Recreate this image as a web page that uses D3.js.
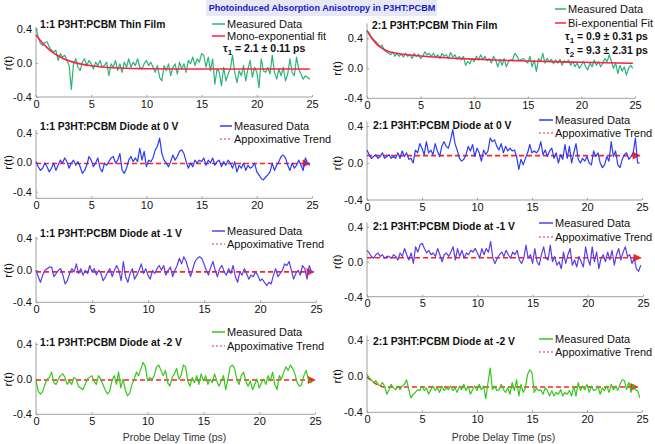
<!DOCTYPE html>
<html><head><meta charset="utf-8">
<script src="https://cdn.jsdelivr.net/npm/d3@7"></script>
<style>
body{margin:0;background:#fff}
svg{display:block;font-family:"Liberation Sans",Arial,sans-serif}
</style>
</head><body>
<svg id="c" width="655" height="444"></svg>
<script>
// ---------------- DATA ----------------
const chartTitle = "Photoinduced Absorption Anisotropy in P3HT:PCBM";
const xLabel = "Probe Delay Time (ps)";
const yLabel = "r(t)";
const xTicks = [0, 5, 10, 15, 20, 25];
const yTicks = [-0.4, 0.0, 0.4];
const timeStep = 0.2; // ps between samples

const panelTitles = [
  "1:1 P3HT:PCBM Thin Film", "2:1 P3HT:PCBM Thin Film",
  "1:1 P3HT:PCBM Diode at 0 V", "2:1 P3HT:PCBM Diode at 0 V",
  "1:1 P3HT:PCBM Diode at -1 V", "2:1 P3HT:PCBM Diode at -1 V",
  "1:1 P3HT:PCBM Diode at -2 V", "2:1 P3HT:PCBM Diode at -2 V"
];
const dataLegend = "Measured Data";
const fitLegends = ["Mono-exponential fit", "Bi-exponential Fit"];
const trendLegend = "Appoximative Trend";

const film11 = [0.41,0.31,0.23,0.21,0.24,0.25,0.19,0.15,0.13,0.15,0.03,0.11,0.07,0.09,0.03,-0.03,-0.31,-0.01,0.05,-0.05,
-0.09,0.01,0.05,-0.03,0.03,-0.01,-0.07,0.01,-0.03,0.03,-0.05,-0.03,0.01,-0.15,-0.01,-0.05,0.03,-0.09,-0.01,-0.11,
0.01,-0.05,0.05,-0.05,0.01,-0.03,0.05,-0.05,-0.07,-0.01,0.03,-0.03,0.01,-0.05,-0.11,-0.03,-0.17,-0.21,-0.03,-0.09,
-0.01,-0.15,-0.05,-0.01,-0.13,0.01,-0.07,-0.01,-0.11,0.03,-0.01,0.07,-0.03,0.05,0.01,0.11,0.09,-0.05,0.07,-0.09,
0.05,-0.25,-0.07,-0.11,-0.27,-0.05,-0.21,-0.13,-0.07,0.09,-0.11,-0.23,-0.09,-0.15,-0.03,-0.21,-0.07,0.03,-0.17,-0.05,
-0.11,-0.29,0.05,-0.09,-0.11,-0.05,-0.13,0.09,-0.11,-0.19,-0.07,-0.15,-0.05,-0.21,-0.13,0.05,-0.11,-0.15,0.07,-0.07,
-0.13,-0.19,-0.15,-0.17,-0.19];
const film21 = [0.51,0.47,0.42,0.39,0.36,0.33,0.29,0.31,0.24,0.22,0.20,0.18,0.22,0.16,0.20,0.16,0.19,0.15,0.20,0.16,
0.18,0.13,0.20,0.16,0.19,0.13,0.16,0.22,0.18,0.20,0.16,0.20,0.15,0.18,0.13,0.20,0.16,0.18,0.13,0.21,
0.15,0.18,0.12,0.16,0.11,0.16,0.04,0.09,0.06,0.13,0.09,0.16,0.11,0.18,0.12,0.16,0.10,0.13,0.07,0.16,
0.11,0.02,0.12,0.04,0.13,0.02,0.09,0.11,0.12,0.20,0.16,0.10,0.12,0.13,0.09,0.07,0.16,0.02,0.11,-0.04,
0.13,0.09,0.20,0.07,0.13,0.09,0.12,0.06,0.11,0.07,0.12,0.04,0.10,0.08,0.11,0.04,0.09,0.02,0.07,0.00,
0.04,0.09,0.02,-0.02,0.07,0.02,0.11,0.04,0.09,0.02,0.07,0.13,0.09,0.18,0.09,0.00,0.07,-0.07,0.04,-0.04,
0.02,-0.09,0.00,0.04,0.00];
const diode11_0V = [0.01,-0.06,-0.11,-0.08,-0.01,-0.06,-0.13,-0.08,-0.01,-0.11,-0.04,0.03,-0.01,0.06,0.01,-0.08,-0.01,0.03,-0.04,0.01,
-0.06,-0.15,-0.11,-0.04,0.08,0.03,-0.06,-0.01,0.06,-0.08,-0.13,-0.01,-0.04,0.01,0.06,0.08,-0.01,0.03,0.12,-0.11,
-0.15,-0.08,0.03,0.08,0.01,0.06,0.01,0.19,0.03,0.15,-0.06,0.03,0.01,0.06,0.17,0.22,0.33,0.12,0.03,-0.01,
-0.06,0.01,0.10,0.03,0.08,0.15,0.17,0.12,0.01,-0.08,-0.01,-0.06,0.03,-0.01,0.03,0.01,0.06,-0.04,0.03,-0.01,
0.06,-0.04,0.01,0.03,-0.06,0.01,-0.04,0.03,-0.01,-0.08,0.01,-0.13,-0.04,-0.08,-0.01,-0.11,-0.04,-0.08,-0.06,-0.01,
-0.13,-0.17,-0.22,-0.24,-0.20,-0.17,-0.13,-0.01,-0.11,-0.04,0.01,0.08,0.10,0.06,-0.04,-0.11,-0.01,-0.08,-0.04,0.03,
-0.04,-0.11,0.06,-0.01,-0.04];
const diode21_0V = [0.14,0.09,0.05,0.07,0.09,0.05,0.07,0.11,0.05,0.07,0.09,0.05,0.07,0.05,0.11,0.05,0.13,0.07,0.11,0.04,
0.05,0.00,0.14,0.11,0.21,0.16,0.09,0.23,0.11,0.14,0.09,0.21,0.13,0.07,0.18,0.23,0.18,0.16,0.25,0.36,
0.21,0.14,0.05,0.02,0.04,0.09,0.18,0.13,0.20,0.07,0.16,0.11,0.02,0.14,0.09,0.13,0.27,0.23,0.25,0.18,
0.14,0.21,0.11,0.18,0.13,0.16,0.13,0.14,0.07,-0.07,0.04,-0.02,0.05,0.11,0.20,0.11,0.13,0.11,0.14,0.23,
0.09,0.14,0.07,0.13,0.16,0.05,0.11,0.00,0.09,0.04,0.20,0.05,0.18,0.00,0.11,0.21,0.04,0.00,0.05,0.02,
0.07,0.00,-0.02,0.13,0.07,0.11,0.00,-0.05,-0.02,0.07,0.02,0.23,0.07,0.13,-0.02,-0.05,0.04,0.09,0.11,0.04,
0.07,0.11,0.27,0.00,0.00];
const diode11_1V = [0.00,-0.08,-0.15,-0.06,0.00,0.02,0.04,0.04,-0.08,-0.04,0.00,0.02,-0.06,-0.17,-0.13,-0.04,0.02,-0.02,0.08,-0.04,
0.02,-0.06,0.00,-0.04,0.06,-0.02,0.02,-0.06,0.00,-0.04,-0.13,-0.08,-0.02,0.02,-0.08,0.00,0.06,0.00,-0.13,0.11,
-0.08,-0.15,-0.04,0.02,-0.11,-0.06,0.00,0.08,-0.04,0.02,-0.06,-0.11,0.00,-0.04,0.02,0.06,0.00,0.06,-0.06,0.00,
0.04,-0.08,0.00,0.06,0.15,0.08,0.17,0.11,0.02,-0.08,0.02,0.11,0.15,0.17,0.15,0.08,0.00,-0.06,0.04,0.11,
0.00,-0.08,0.02,0.06,-0.02,-0.06,0.02,-0.04,0.06,-0.08,-0.15,-0.02,-0.06,0.02,-0.04,-0.11,-0.06,-0.08,-0.02,-0.06,
-0.13,-0.11,-0.15,-0.19,-0.15,-0.17,-0.06,0.02,-0.08,-0.04,0.00,0.08,0.06,0.11,0.00,-0.11,-0.04,0.00,-0.06,0.06,
0.02,-0.11,0.06,-0.02,-0.02];
const diode21_1V = [0.13,0.10,0.06,0.04,0.08,0.10,0.06,0.08,0.04,0.06,0.06,0.04,0.08,0.06,0.02,0.10,0.06,0.15,0.08,0.02,
0.10,-0.02,0.17,0.11,0.19,0.21,0.15,0.10,0.13,0.08,0.10,0.06,0.15,0.08,0.00,0.08,0.10,0.06,0.11,0.17,
0.02,0.15,0.06,0.13,0.04,0.10,0.08,0.13,0.11,0.15,0.10,0.04,0.15,0.08,0.15,0.11,0.23,0.04,-0.02,0.04,
0.08,0.11,0.06,0.13,0.08,0.04,0.11,0.08,0.13,0.02,-0.02,0.04,0.19,0.04,0.08,-0.02,0.15,0.00,-0.04,0.08,
0.17,0.04,0.02,0.19,0.00,0.06,-0.04,0.00,-0.08,0.11,-0.02,0.08,0.15,-0.04,0.02,-0.06,0.06,0.00,-0.06,0.17,
0.04,-0.04,0.17,0.00,0.11,-0.08,0.04,0.08,0.00,0.11,0.02,0.13,-0.04,0.08,0.15,0.02,0.11,0.17,0.06,0.08,
-0.02,0.04,-0.08,-0.11,-0.04];
const diode11_2V = [-0.02,-0.14,-0.17,-0.14,-0.06,0.00,0.02,0.08,-0.04,-0.06,0.00,0.04,0.06,0.02,-0.06,-0.02,-0.06,0.02,0.00,-0.08,
-0.10,-0.12,-0.06,0.00,0.02,0.04,-0.02,-0.06,0.04,0.00,-0.06,-0.12,-0.17,-0.14,-0.02,0.04,-0.06,0.08,-0.10,0.00,
-0.12,-0.19,-0.16,-0.06,0.00,0.08,0.04,0.12,0.19,0.14,-0.02,0.02,0.00,0.04,0.14,0.16,0.10,0.04,0.10,-0.04,
-0.08,0.02,0.06,0.12,0.00,0.04,0.16,0.14,-0.02,-0.08,0.02,-0.04,0.04,-0.06,0.06,-0.02,0.04,-0.06,0.00,-0.04,
0.06,-0.02,-0.08,-0.02,0.04,-0.12,0.00,0.14,0.16,0.12,0.00,-0.06,0.04,0.08,-0.02,-0.08,-0.02,-0.12,-0.06,0.00,
-0.10,-0.04,0.00,-0.06,0.04,-0.02,0.08,-0.06,-0.12,0.04,0.00,0.08,0.14,0.10,0.16,0.12,0.06,-0.04,-0.08,-0.06,
0.04,0.10,0.00,-0.04,-0.02];
const diode21_2V = [0.02,-0.02,-0.04,-0.07,-0.05,-0.09,-0.11,-0.07,-0.11,-0.20,-0.15,-0.09,-0.13,-0.15,-0.11,-0.15,-0.11,-0.09,-0.04,-0.15,
-0.24,-0.20,-0.18,-0.15,-0.16,-0.11,-0.16,-0.13,-0.20,-0.15,-0.11,-0.16,-0.13,-0.18,-0.11,-0.16,-0.13,-0.15,-0.11,-0.16,
-0.13,-0.18,-0.11,-0.15,-0.09,-0.16,-0.11,-0.20,-0.15,-0.11,-0.16,-0.09,-0.15,-0.11,-0.25,-0.07,0.09,-0.15,-0.11,-0.16,
-0.15,-0.09,-0.15,-0.18,-0.13,-0.20,-0.07,-0.16,-0.04,-0.22,-0.09,-0.18,-0.13,0.02,0.07,0.04,-0.18,-0.13,-0.16,-0.15,
-0.20,-0.13,-0.16,-0.22,-0.16,-0.22,-0.18,-0.20,-0.15,-0.22,-0.18,-0.20,-0.16,-0.22,-0.11,-0.22,-0.07,-0.16,-0.11,-0.15,
-0.09,-0.18,-0.11,-0.16,-0.15,-0.11,-0.20,-0.13,-0.16,-0.11,-0.18,-0.09,-0.15,-0.11,-0.16,-0.09,-0.04,-0.05,-0.15,-0.07,
-0.18,-0.09,-0.15,-0.16,-0.24];

// fit curves: [time, r]
const fit11 = [[0,0.33],[0.5,0.25],[1,0.18],[1.5,0.125],[2,0.085],[2.5,0.05],[3,0.025],[4,-0.01],[5,-0.033],[6,-0.047],[7,-0.056],[8,-0.062],[10,-0.067],[13,-0.07],[17,-0.07],[21,-0.07],[24.8,-0.07]];
const fit21 = [[0,0.50],[0.5,0.39],[1,0.31],[1.5,0.26],[2,0.225],[3,0.195],[4,0.178],[5,0.165],[7,0.145],[10,0.122],[12.5,0.108],[15,0.097],[20,0.08],[24.8,0.067]];
// approximative trends: [time, r]
const trend11_0V = [[0,-0.015],[24.8,-0.015]];
const trend21_0V = [[0,0.08],[24.8,0.08]];
const trend11_1V = [[0,-0.02],[24.8,-0.02]];
const trend21_1V = [[0,0.045],[24.8,0.045]];
const trend11_2V = [[0,-0.01],[25,-0.01]];
const trend21_2V = [[0,-0.01],[0.5,-0.06],[1,-0.10],[1.5,-0.12],[24.6,-0.12]];

const tau11 = [["1","2.1 \u00b1 0.11 ps"]];
const tau21 = [["1","0.9 \u00b1 0.31 ps"],["2","9.3 \u00b1 2.31 ps"]];

// ---------------- LAYOUT / STYLE ----------------
const C = {
  film:"#2bb47a", fit:"#ff1f44", blue:"#2a3cf6", violet:"#5b3de8", lime:"#34c81c",
  trend:"#ff2020", trendLeg:"#ff6b8c", axis:"#a0a0a0", title:"#1a1acc"
};
const FS = {tick:11, legend:11, tau:10.5, ptitle:10.3, xlab:10.4, ylab:11.5, title:9.1};
const panels = [
  {x0:36,x1:312,yHi:29,yLo:97,axTop:0.42,axBot:-0.4, tx:40,ty:24, lx:227,ls:212,ly:[24,36],
   data:film11,color:C.film,fit:fit11,fitLeg:fitLegends[0],tau:tau11,tauX:223,tauY:[48]},
  {x0:367,x1:635,yHi:38.3,yLo:98.3,axTop:0.6,axBot:-0.4, tx:372,ty:25, lx:568,ls:555,ly:[9,23],
   data:film21,color:C.film,fit:fit21,fitLeg:fitLegends[1],tau:tau21,tauX:565,tauY:[36,50]},
  {x0:36,x1:312,yHi:133,yLo:191.7,axTop:0.44,axBot:-0.49, tx:40,ty:126, lx:234,ls:220,ly:[126,139],
   data:diode11_0V,color:C.blue,trend:trend11_0V},
  {x0:367,x1:642,yHi:126,yLo:200,axTop:0.45,axBot:-0.4, tx:373,ty:125, lx:555,ls:539,ly:[120,133],
   data:diode21_0V,color:C.blue,trend:trend21_0V},
  {x0:36,x1:316,yHi:238.3,yLo:302.3,axTop:0.42,axBot:-0.4, tx:40,ty:233, lx:227,ls:212,ly:[231,244],
   data:diode11_1V,color:C.violet,trend:trend11_1V},
  {x0:367,x1:643,yHi:226.7,yLo:296.7,axTop:0.45,axBot:-0.4, tx:373,ty:226, lx:555,ls:539,ly:[223,237],
   data:diode21_1V,color:C.violet,trend:trend21_1V},
  {x0:36,x1:315,yHi:344,yLo:414.3,axTop:0.42,axBot:-0.4, tx:40,ty:342, lx:227,ls:212,ly:[332,346],
   data:diode11_2V,color:C.lime,trend:trend11_2V, xlab:true},
  {x0:367,x1:642,yHi:340,yLo:412.3,axTop:0.45,axBot:-0.4, tx:373,ty:341, lx:555,ls:539,ly:[339,352],
   data:diode21_2V,color:C.lime,trend:trend21_2V, xlab:true}
];

const svg = d3.select("#c");
const defs = svg.append("defs");
defs.append("marker").attr("id","arr").attr("viewBox","0 0 10 10")
  .attr("refX",9).attr("refY",5).attr("markerWidth",10).attr("markerHeight",8)
  .attr("markerUnits","userSpaceOnUse").attr("orient","auto")
  .append("path").attr("d","M0,0L10,5L0,10Z").attr("fill",C.trend);

// chart title
const tg = svg.append("g");
tg.append("rect").attr("x",206).attr("y",0).attr("width",231).attr("height",16).attr("fill","#e6e8f3");
tg.append("text").attr("x",322).attr("y",11).attr("text-anchor","middle")
  .attr("font-size",FS.title).attr("font-weight","bold").attr("fill",C.title).text(chartTitle);

const fmt = v => (v<0?"-":"") + Math.abs(v).toFixed(1);

panels.forEach((p,i) => {
  const x = d3.scaleLinear().domain([0,25]).range([p.x0,p.x1]);
  const y = d3.scaleLinear().domain([-0.4,0.4]).range([p.yLo,p.yHi]);
  const g = svg.append("g");
  // axes lines
  g.append("line").attr("x1",p.x0).attr("x2",p.x0).attr("y1",y(p.axTop)).attr("y2",y(p.axBot))
    .attr("stroke",C.axis).attr("stroke-width",1);
  g.append("line").attr("x1",p.x0).attr("x2",p.x1).attr("y1",y(p.axBot)).attr("y2",y(p.axBot))
    .attr("stroke",C.axis).attr("stroke-width",1);
  const ax = g.append("g").attr("transform",`translate(0,${y(p.axBot)})`)
    .call(d3.axisBottom(x).tickValues(xTicks).tickSizeInner(-2).tickSizeOuter(0).tickPadding(3).tickFormat(d3.format("d")));
  const ay = g.append("g").attr("transform",`translate(${p.x0},0)`)
    .call(d3.axisLeft(y).tickValues(yTicks).tickSizeInner(-2).tickSizeOuter(0).tickPadding(4).tickFormat(fmt));
  [ax,ay].forEach(a => {
    a.select(".domain").remove();
    a.selectAll(".tick line").attr("stroke",C.axis);
    a.selectAll("text").attr("font-size",FS.tick).attr("fill","#111").attr("font-family","Liberation Sans, Arial, sans-serif");
  });
  // y label
  const lxp = i%2===0 ? 12 : 341;
  const cy = (y(0.4)+y(-0.4))/2;
  g.append("text").attr("transform",`translate(${lxp},${cy}) rotate(-90)`).attr("text-anchor","middle")
    .attr("font-size",FS.ylab).attr("fill","#111").text(yLabel);
  if (p.xlab) {
    g.append("text").attr("x",(p.x0+p.x1)/2 - 1).attr("y",441).attr("text-anchor","middle")
      .attr("font-size",FS.xlab).attr("fill","#333").text(xLabel);
  }
  // trend
  if (p.trend) {
    g.append("path").datum(p.trend)
      .attr("d",d3.line().x(d=>x(d[0])).y(d=>y(d[1])))
      .attr("fill","none").attr("stroke",C.trend).attr("stroke-width",1.6)
      .attr("stroke-dasharray","5,3").attr("marker-end","url(#arr)");
  }
  // data
  g.append("path").datum(p.data)
    .attr("d",d3.line().x((d,k)=>x(k*timeStep)).y(d=>y(d)))
    .attr("fill","none").attr("stroke",p.color).attr("stroke-width",1.2).attr("stroke-linejoin","round");
  // fit
  if (p.fit) {
    g.append("path").datum(p.fit)
      .attr("d",d3.line().curve(d3.curveMonotoneX).x(d=>x(d[0])).y(d=>y(d[1])))
      .attr("fill","none").attr("stroke",C.fit).attr("stroke-width",1.6);
  }
  // panel title
  g.append("text").attr("x",p.tx).attr("y",p.ty+3.5).attr("font-size",FS.ptitle).attr("font-weight","bold")
    .attr("fill","#111").text(panelTitles[i]);
  // legend
  g.append("line").attr("x1",p.ls).attr("x2",p.lx-2).attr("y1",p.ly[0]).attr("y2",p.ly[0])
    .attr("stroke",p.color).attr("stroke-width",1.5);
  g.append("text").attr("x",p.lx).attr("y",p.ly[0]+4).attr("font-size",FS.legend).attr("fill","#111").text(dataLegend);
  if (p.fit) {
    g.append("line").attr("x1",p.ls).attr("x2",p.lx-2).attr("y1",p.ly[1]).attr("y2",p.ly[1])
      .attr("stroke",C.fit).attr("stroke-width",1.5);
    g.append("text").attr("x",p.lx).attr("y",p.ly[1]+4).attr("font-size",FS.legend).attr("fill","#111").text(p.fitLeg);
    p.tau.forEach((tt,k) => {
      const t = g.append("text").attr("x",p.tauX).attr("y",p.tauY[k]+3.5).attr("font-size",FS.tau)
        .attr("font-weight","bold").attr("fill","#111");
      t.append("tspan").text("\u03c4");
      t.append("tspan").attr("font-size",8).attr("dy",3).text(tt[0]);
      t.append("tspan").attr("dy",-3).text(" = " + tt[1]);
    });
  } else {
    g.append("line").attr("x1",p.ls).attr("x2",p.lx-2).attr("y1",p.ly[1]).attr("y2",p.ly[1])
      .attr("stroke",C.trendLeg).attr("stroke-width",1.5).attr("stroke-dasharray","2,2");
    g.append("text").attr("x",p.lx).attr("y",p.ly[1]+4).attr("font-size",FS.legend).attr("fill","#111").text(trendLegend);
  }
});
</script>
</body></html>
